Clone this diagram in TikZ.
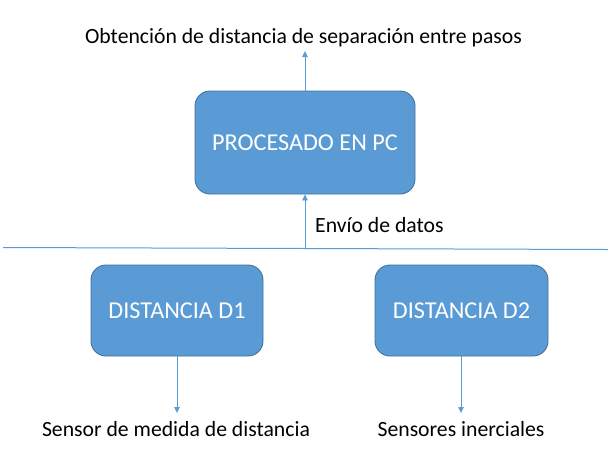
\documentclass[tikz,border=0pt]{standalone}
\usepackage{fontspec}
\setmainfont{Carlito}
\usetikzlibrary{arrows.meta}
\definecolor{boxfill}{HTML}{5B9BD5}
\definecolor{boxline}{HTML}{41719C}
\definecolor{conn}{HTML}{5B9BD5}
\begin{document}
\begin{tikzpicture}[x=1pt,y=-1pt,
  blk/.style={draw=boxline,line width=0.9pt,fill=boxfill,rounded corners=15pt,text=white,font=\fontsize{24.2}{28}\selectfont,inner sep=0pt},
  lbl/.style={font=\fontsize{21.7}{26}\selectfont,text=black,inner sep=0pt},
  arr/.style={draw=conn,line width=0.8pt,-{Triangle[width=5.5pt,length=6pt]}}]
\useasboundingbox (0,0) rectangle (612,459);
\node[blk,minimum width=220pt,minimum height=103pt] (pc) at (305,142.5) {PROCESADO EN PC};
\node[blk,minimum width=172pt,minimum height=91pt] (d1) at (177,310.5) {DISTANCIA D1};
\node[blk,minimum width=173pt,minimum height=91pt] (d2) at (461.5,310.5) {DISTANCIA D2};
\node[lbl] (top) at (303.5,38) {Obtención de distancia de separación entre pasos};
\node[lbl,anchor=west] (envio) at (315,225) {Envío de datos};
\node[lbl] (s1) at (176,429) {Sensor de medida de distancia};
\node[lbl] (s2) at (461,429) {Sensores inerciales};
\coordinate (hl) at (3,247.5);
\coordinate (hr) at (608,249.5);
\coordinate (hm) at (305,248.5);
\coordinate (ta) at (305,51);
\coordinate (b1) at (177,413);
\coordinate (b2) at (461,413);
\draw[draw=conn,line width=1pt] (hl) -- (hr);
\draw[arr] (pc.north) -- (ta);
\draw[arr] (hm) -- (pc.south);
\draw[arr] (d1.south) -- (b1);
\draw[arr] (d2.south -| b2) -- (b2);
\end{tikzpicture}
\end{document}
